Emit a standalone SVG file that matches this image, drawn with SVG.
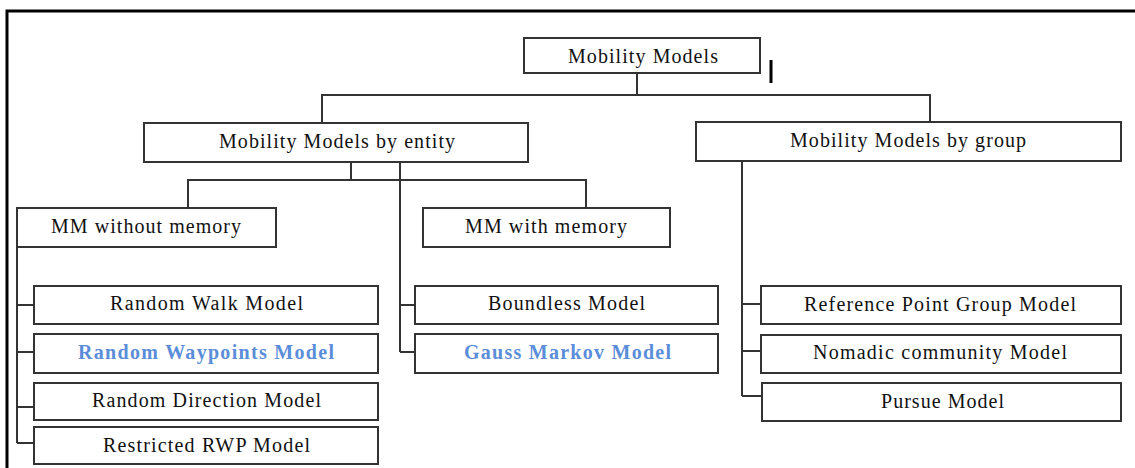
<svg xmlns="http://www.w3.org/2000/svg" width="1135" height="468" viewBox="0 0 1135 468">
<style>
.box{fill:#fff;stroke:#333;stroke-width:2}
.lbl{font-family:'Liberation Serif','DejaVu Serif','Times New Roman',serif;font-size:20px;fill:#111}
.blue{fill:#5b8dd9;font-weight:bold}
.con{fill:none;stroke:#333;stroke-width:2}
</style>
<rect width="1135" height="468" fill="#fff"/>
<path d="M7,468 V11 H1135" fill="none" stroke="#000" stroke-width="3"/>
<line x1="771" y1="60" x2="771" y2="83" stroke="#000" stroke-width="3"/>
<g id="connectors" class="con">
<path d="M637,73 V95 M322,123 V95 H930 V122"/>
<path d="M351,162 V180 M188,208 V180 H586 V208"/>
<path d="M400,162 V352 M400,305 H415 M400,352 H415"/>
<path d="M17,247 V443 M17,305 H34 M17,352 H34 M17,407 H34 M17,443 H34"/>
<path d="M742,161 V396 M742,304 H761 M742,351 H761 M742,396 H762"/>
</g>
<g id="n-root"><rect class="box" x="524" y="38" width="236" height="35"/><text class="lbl" x="568" y="63" textLength="150">Mobility Models</text></g>
<g id="n-entity"><rect class="box" x="144" y="123" width="384" height="39"/><text class="lbl" x="219" y="148" textLength="236">Mobility Models by entity</text></g>
<g id="n-group"><rect class="box" x="696" y="122" width="425" height="39"/><text class="lbl" x="790" y="147" textLength="236">Mobility Models by group</text></g>
<g id="n-nomem"><rect class="box" x="17" y="208" width="259" height="39"/><text class="lbl" x="51" y="233" textLength="190">MM without memory</text></g>
<g id="n-mem"><rect class="box" x="423" y="208" width="247" height="39"/><text class="lbl" x="465" y="233" textLength="162">MM with memory</text></g>
<g id="n-rw"><rect class="box" x="34" y="286" width="344" height="38"/><text class="lbl" x="110" y="310" textLength="193">Random Walk Model</text></g>
<g id="n-rwp"><rect class="box" x="34" y="334" width="344" height="39"/><text class="lbl blue" x="78" y="359" textLength="256">Random Waypoints Model</text></g>
<g id="n-rd"><rect class="box" x="34" y="383" width="344" height="37"/><text class="lbl" x="92" y="407" textLength="229">Random Direction Model</text></g>
<g id="n-rrwp"><rect class="box" x="34" y="427" width="344" height="37"/><text class="lbl" x="103" y="452" textLength="207">Restricted RWP Model</text></g>
<g id="n-bound"><rect class="box" x="415" y="286" width="303" height="38"/><text class="lbl" x="488" y="310" textLength="157">Boundless Model</text></g>
<g id="n-gm"><rect class="box" x="415" y="334" width="303" height="39"/><text class="lbl blue" x="464" y="359" textLength="207">Gauss Markov Model</text></g>
<g id="n-rpg"><rect class="box" x="761" y="286" width="360" height="38"/><text class="lbl" x="804" y="311" textLength="272">Reference Point Group Model</text></g>
<g id="n-nom"><rect class="box" x="761" y="335" width="360" height="38"/><text class="lbl" x="813" y="359" textLength="254">Nomadic community Model</text></g>
<g id="n-pur"><rect class="box" x="762" y="383" width="359" height="38"/><text class="lbl" x="881" y="408" textLength="123">Pursue Model</text></g>
</svg>
